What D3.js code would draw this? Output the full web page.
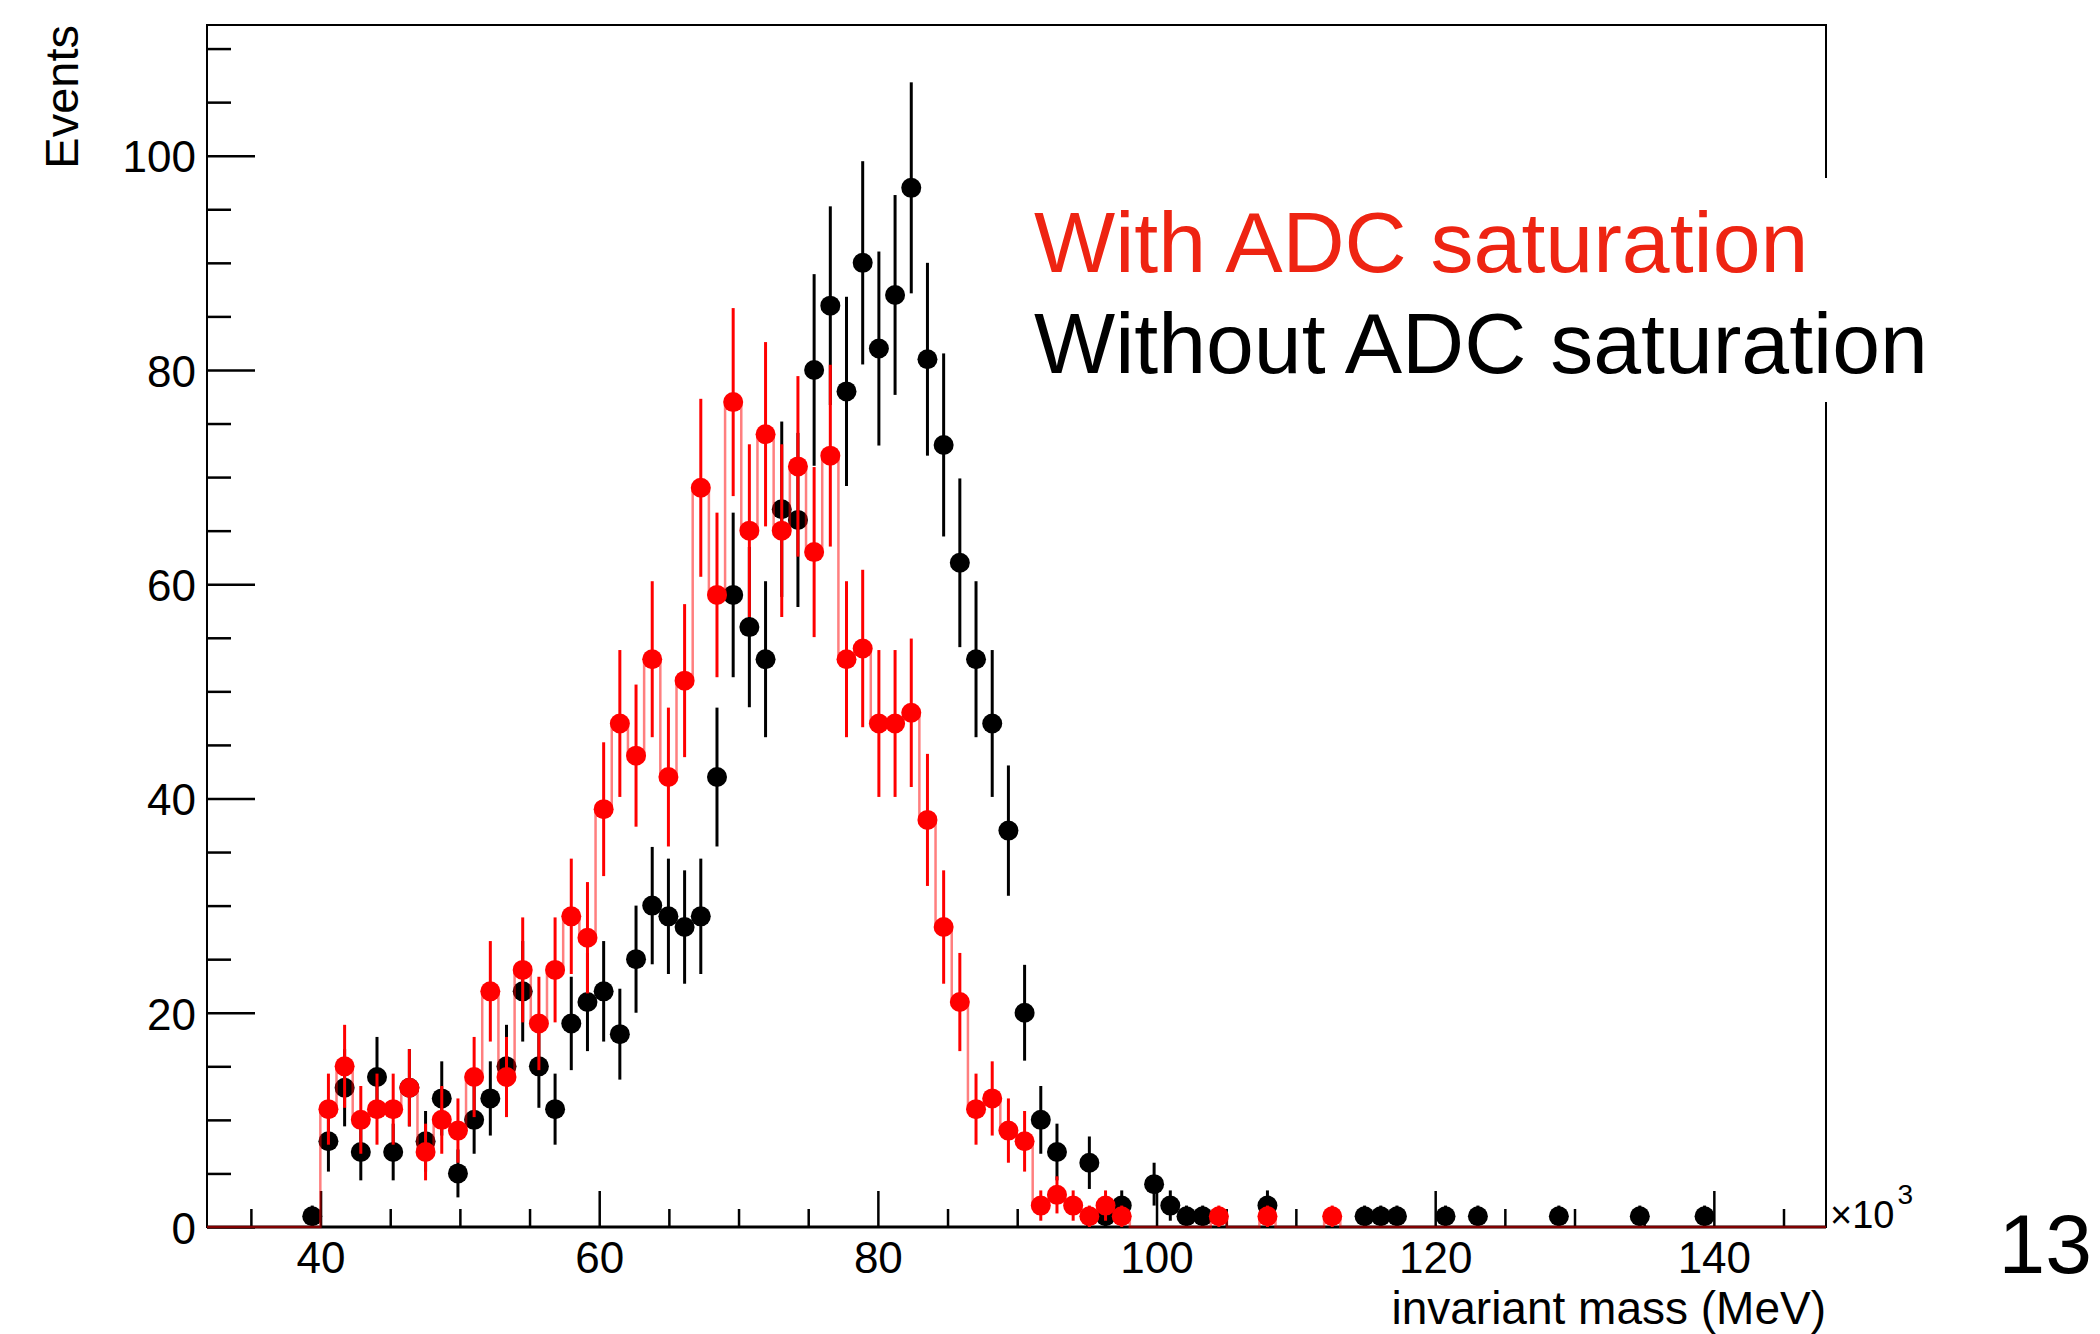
<!DOCTYPE html>
<html>
<head>
<meta charset="utf-8">
<script src="https://cdn.jsdelivr.net/npm/d3@7/dist/d3.min.js"></script>
<style>
  body { margin: 0; background: #fff; }
  svg text { font-family: "Liberation Sans", Arial, Helvetica, sans-serif; }
</style>
</head>
<body>
<script>
// histogram binning (x in units of 10^3 MeV)
var binLow = 31.85;
var binWidth = 1.162;
var firstBin = 6;

// events per bin, starting at bin index firstBin
var withoutSat = [
  1, 8, 13, 7, 14, 7, 13, 8, 12, 5,
  10, 12, 15, 22, 15, 11, 19, 21, 22, 18,
  25, 30, 29, 28, 29, 42, 59, 56, 53, 67,
  66, 80, 86, 78, 90, 82, 87, 97, 81, 73,
  62, 53, 47, 37, 20, 10, 7, 0, 6, 1,
  2, 0, 4, 2, 1, 1, 0, 0, 0, 2,
  0, 0, 0, 0, 0, 1, 1, 1, 0, 0,
  1, 0, 1, 0, 0, 0, 0, 1, 0, 0,
  0, 0, 1, 0, 0, 0, 1
];
var withSat = [
  0, 11, 15, 10, 11, 11, 13, 7, 10, 9,
  14, 22, 14, 24, 19, 24, 29, 27, 39, 47,
  44, 53, 42, 51, 69, 59, 77, 65, 74, 65,
  71, 63, 72, 53, 54, 47, 47, 48, 38, 28,
  21, 11, 12, 9, 8, 2, 3, 2, 1, 2,
  1, 0, 0, 0, 0, 0, 1, 0, 0, 1,
  0, 0, 0, 1
];

var xDomain = [31.85, 148.05];
var yDomain = [0, 112.2];
var xMajor = [40, 60, 80, 100, 120, 140];
var xMinor = [35, 45, 50, 55, 65, 70, 75, 85, 90, 95, 105, 110, 115, 125, 130, 135, 145];
var yMajor = [0, 20, 40, 60, 80, 100];
var yMinor = [5, 10, 15, 25, 30, 35, 45, 50, 55, 65, 70, 75, 85, 90, 95, 105, 110];

var legendLabels = ["With ADC saturation", "Without ADC saturation"];
var legendColors = ["#ee2412", "#000000"];

(function () {
  var W = 2100, H = 1334;
  var left = 207, right = 1826, top = 25, bottom = 1227;

  var x = d3.scaleLinear().domain(xDomain).range([left, right]);
  var y = d3.scaleLinear().domain(yDomain).range([bottom, top]);

  var svg = d3.select("body")
    .append("svg")
    .attr("width", W)
    .attr("height", H);

  svg.append("rect")
    .attr("width", W)
    .attr("height", H)
    .attr("fill", "#fff");

  var toBins = function (counts) {
    return counts.map(function (n, k) {
      var lo = binLow + (firstBin + k) * binWidth;
      return { lo: lo, hi: lo + binWidth, c: lo + binWidth / 2, n: n };
    });
  };

  var styleAxis = function (g) {
    g.select(".domain").remove();
    g.selectAll(".tick line").attr("stroke", "#000").attr("stroke-width", 2.5);
    g.selectAll(".tick text").attr("fill", "#000").style("font-size", "44px");
  };

  // ticks
  svg.append("g")
    .attr("transform", "translate(0," + bottom + ")")
    .call(d3.axisBottom(x).tickValues(xMinor).tickSize(-18).tickFormat(""))
    .call(styleAxis);
  svg.append("g")
    .attr("transform", "translate(0," + bottom + ")")
    .call(d3.axisBottom(x).tickValues(xMajor).tickSize(-36).tickPadding(15).tickFormat(d3.format("d")))
    .call(styleAxis);
  svg.append("g")
    .attr("transform", "translate(" + left + ",0)")
    .call(d3.axisLeft(y).tickValues(yMinor).tickSize(-24).tickFormat(""))
    .call(styleAxis);
  svg.append("g")
    .attr("transform", "translate(" + left + ",0)")
    .call(d3.axisLeft(y).tickValues(yMajor).tickSize(-48).tickPadding(11).tickFormat(d3.format("d")))
    .call(styleAxis)
    .selectAll(".tick text").attr("dy", "0.37em");

  // frame
  svg.append("rect")
    .attr("x", left)
    .attr("y", top)
    .attr("width", right - left)
    .attr("height", bottom - top)
    .attr("fill", "none")
    .attr("stroke", "#000")
    .attr("stroke-width", 2);
  svg.append("line")
    .attr("x1", left).attr("x2", right)
    .attr("y1", bottom).attr("y2", bottom)
    .attr("stroke", "#000")
    .attr("stroke-width", 3);

  var drawPoints = function (bins, color) {
    var g = svg.append("g");
    var pts = bins.filter(function (d) { return d.n > 0; });
    g.selectAll("line")
      .data(pts)
    .enter()
      .append("line")
      .attr("x1", function (d) { return x(d.c); })
      .attr("x2", function (d) { return x(d.c); })
      .attr("y1", function (d) { return y(d.n - Math.sqrt(d.n)); })
      .attr("y2", function (d) { return y(d.n + Math.sqrt(d.n)); })
      .attr("stroke", color)
      .attr("stroke-width", 3);
    g.selectAll("circle")
      .data(pts)
    .enter()
      .append("circle")
      .attr("cx", function (d) { return x(d.c); })
      .attr("cy", function (d) { return y(d.n); })
      .attr("r", 10)
      .attr("fill", color);
  };

  var blackBins = toBins(withoutSat);
  var redBins = toBins(withSat);

  drawPoints(blackBins, "#000");

  // step outline of the saturated histogram
  var step = [[xDomain[0], 0]];
  redBins.forEach(function (d) {
    step.push([d.lo, d.n]);
    step.push([d.hi, d.n]);
  });
  step.push([redBins[redBins.length - 1].hi, 0]);
  step.push([xDomain[1], 0]);

  svg.append("path")
    .datum(step)
    .attr("d", d3.line()
      .x(function (d) { return x(d[0]); })
      .y(function (d) { return y(d[1]); }))
    .attr("fill", "none")
    .attr("stroke", "#ff0000")
    .attr("stroke-opacity", 0.5)
    .attr("stroke-width", 2.5);

  drawPoints(redBins, "#ff0000");

  // axis titles
  svg.append("text")
    .attr("transform", "translate(78," + top + ") rotate(-90)")
    .attr("text-anchor", "end")
    .style("font-size", "47px")
    .text("Events");

  svg.append("text")
    .attr("x", right)
    .attr("y", 1324)
    .attr("text-anchor", "end")
    .style("font-size", "46px")
    .text("invariant mass (MeV)");

  var mult = svg.append("text")
    .attr("x", right + 4)
    .attr("y", 1228)
    .style("font-size", "38px")
    .text("\u00d710");
  mult.append("tspan")
    .attr("dx", 3)
    .attr("dy", -24)
    .style("font-size", "28px")
    .text("3");

  // legend on a white box
  svg.append("rect")
    .attr("x", 1020)
    .attr("y", 178)
    .attr("width", 925)
    .attr("height", 224)
    .attr("fill", "#fff");

  svg.selectAll("text.legend")
    .data(legendLabels)
  .enter()
    .append("text")
    .attr("class", "legend")
    .attr("x", 1034)
    .attr("y", function (d, i) { return 272 + i * 101; })
    .attr("fill", function (d, i) { return legendColors[i]; })
    .style("font-size", "86px")
    .text(function (d) { return d; });

  // slide number
  svg.append("text")
    .attr("x", 2092)
    .attr("y", 1273)
    .attr("text-anchor", "end")
    .style("font-size", "84px")
    .text("13");
})();
</script>
</body>
</html>
